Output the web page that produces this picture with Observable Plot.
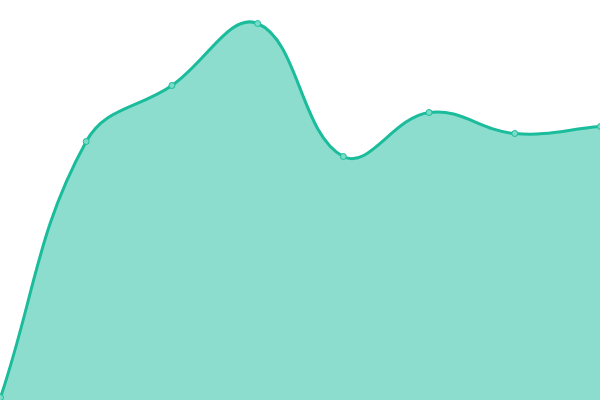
<!DOCTYPE html>
<html>
<head>
<meta charset="utf-8">
<script src="https://cdn.jsdelivr.net/npm/d3@7"></script>
<script src="https://cdn.jsdelivr.net/npm/@observablehq/plot@0.6"></script>
<style>
html,body{margin:0;padding:0;background:#fff;}
#chart{width:600px;height:400px;overflow:hidden;}
</style>
</head>
<body>
<div id="chart"></div>
<script>
const xs = [0, 1, 2, 3, 4, 5, 6, 7];
const values = [3, 259, 315, 377, 244, 288, 267, 274];

const data = xs.map((x, i) => ({x, y: values[i]}));

// spline curve with tension 0.4 (distance-weighted control points)
class TensionSpline {
  constructor(context, t) { this._context = context; this._t = t; }
  areaStart() { this._line = 0; }
  areaEnd() { this._line = NaN; }
  lineStart() { this._xs = []; this._ys = []; }
  point(x, y) { this._xs.push(+x); this._ys.push(+y); }
  lineEnd() {
    const X = this._xs, Y = this._ys, n = X.length, c = this._context, t = this._t;
    if (n) {
      if (this._line) c.lineTo(X[0], Y[0]); else c.moveTo(X[0], Y[0]);
      const cp = [];
      for (let i = 0; i < n; i++) {
        const p = i > 0 ? i - 1 : i, q = i < n - 1 ? i + 1 : i;
        const d01 = Math.hypot(X[i] - X[p], Y[i] - Y[p]);
        const d12 = Math.hypot(X[q] - X[i], Y[q] - Y[i]);
        let s01 = d01 / (d01 + d12), s12 = d12 / (d01 + d12);
        if (!isFinite(s01)) s01 = 0;
        if (!isFinite(s12)) s12 = 0;
        const fa = t * s01, fb = t * s12;
        cp.push({
          px: X[i] - fa * (X[q] - X[p]), py: Y[i] - fa * (Y[q] - Y[p]),
          nx: X[i] + fb * (X[q] - X[p]), ny: Y[i] + fb * (Y[q] - Y[p])
        });
      }
      for (let i = 1; i < n; i++) {
        c.bezierCurveTo(cp[i - 1].nx, cp[i - 1].ny, cp[i].px, cp[i].py, X[i], Y[i]);
      }
    }
    if (this._line || (this._line !== 0 && n === 1)) c.closePath();
    this._line = 1 - this._line;
  }
}
const spline = (context) => new TensionSpline(context, 0.4);

const chart = Plot.plot({
  width: 600,
  height: 400,
  margin: 0,
  x: {domain: [0, 7], range: [0, 600], axis: null},
  y: {domain: [0, 400], range: [400, 0], axis: null},
  marks: [
    Plot.areaY(data, {x: "x", y: "y", curve: spline, fill: "#1abc9c", fillOpacity: 0.5}),
    Plot.lineY(data, {x: "x", y: "y", curve: spline, stroke: "#1abc9c", strokeWidth: 3}),
    Plot.dot(data, {x: "x", y: "y", r: 3, fill: "#7adcc7", stroke: "#1abc9c", strokeWidth: 1})
  ]
});
document.getElementById("chart").appendChild(chart);
</script>
</body>
</html>
